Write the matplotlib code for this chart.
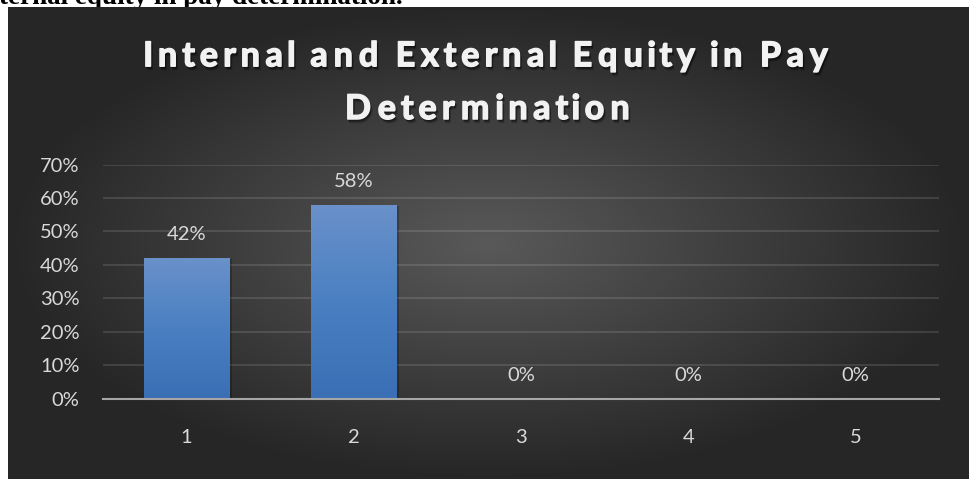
import numpy as np
import matplotlib
matplotlib.use("Agg")
import matplotlib.pyplot as plt
from matplotlib import patheffects as pe
from matplotlib.path import Path
from matplotlib.transforms import Affine2D
from matplotlib.colors import LinearSegmentedColormap

# ---- data ----
categories = ["1", "2", "3", "4", "5"]
values = [42, 58, 0, 0, 0]          # percent
y_ticks = [0, 10, 20, 30, 40, 50, 60, 70]
title = "Internal and External Equity in Pay\nDetermination"
caption = "ternal equity in pay determination."

W, H = 969, 479
fig = plt.figure(figsize=(W / 100, H / 100), dpi=100, facecolor="white")


class SpacedText(pe.AbstractPathEffect):
    """Adds letter spacing (moves glyph contours apart), a stroke and a soft shadow."""

    def __init__(self, k, stroke=0.0, shadows=()):
        super().__init__()
        self.k = k
        self.stroke = stroke
        self.shadows = shadows

    def _spaced(self, path):
        codes = path.codes
        if codes is None:
            return path
        verts = path.vertices.copy()
        valid = codes != Path.CLOSEPOLY
        xs = verts[valid, 0]
        mid = (xs.min() + xs.max()) / 2
        starts = list(np.where(codes == Path.MOVETO)[0]) + [len(verts)]
        for s, e in zip(starts[:-1], starts[1:]):
            m = valid[s:e]
            seg = verts[s:e, 0][m]
            if len(seg) == 0:
                continue
            c = (seg.min() + seg.max()) / 2
            verts[s:e, 0] += self.k * (c - mid)
        return Path(verts, codes)

    def draw_path(self, renderer, gc, tpath, affine, rgbFace=None):
        p = self._spaced(tpath)
        for ox, oy, a in self.shadows:
            gc0 = renderer.new_gc()
            gc0.copy_properties(gc)
            gc0.set_alpha(a)
            gc0.set_foreground((0, 0, 0))
            gc0.set_linewidth(self.stroke)
            renderer.draw_path(gc0, p, affine + Affine2D().translate(ox, -oy), (0, 0, 0))
            gc0.restore()
        gc1 = renderer.new_gc()
        gc1.copy_properties(gc)
        gc1.set_foreground(rgbFace)
        gc1.set_linewidth(self.stroke)
        gc1.set_joinstyle("round")
        renderer.draw_path(gc1, p, affine, rgbFace)
        gc1.restore()


# ---- background with radial gradient ----
bx0, by_top = 8, 7
bg = fig.add_axes([bx0 / W, 0, (W - bx0) / W, (H - by_top) / H], zorder=-1)
bw, bh = W - bx0, H - by_top
xx, yy = np.meshgrid(np.arange(bw), np.arange(bh))
cx, cy = 480, 236
r = np.sqrt(((xx - cx) / (bw / 2)) ** 2 + ((yy - cy) / (bh / 2)) ** 2)
r = np.clip(r, 0, 1)
g = (89 - 51 * r) / 255.0
img = np.dstack([g, g, g])
bg.imshow(img, aspect="auto", interpolation="bilinear")
bg.set_axis_off()

# cropped caption in the white strip above the chart
fig.text(-1 / W, 1 - 4.5 / H, caption, fontfamily="Liberation Serif",
         fontweight="bold", fontsize=19.5, color="black", ha="left",
         va="baseline", zorder=-2)

# ---- main axes ----
ax = fig.add_axes([103 / W, (H - 398.5) / H, 836 / W, 234 / H], zorder=1)
ax.patch.set_visible(False)
x = np.arange(len(categories))
bar_w = 0.51
bars = ax.bar(x, values, width=bar_w, color="#3a70b6", zorder=1.2,
              path_effects=[pe.SimplePatchShadow(offset=(2, -1), alpha=0.22,
                                                 shadow_rgbFace="black"),
                            pe.Normal()])
cmap = LinearSegmentedColormap.from_list("bar", ["#3a6fb5", "#4a80c2", "#6a91ca"])
grad = np.linspace(0, 1, 256).reshape(-1, 1)
for b in bars:
    h = b.get_height()
    if h <= 0:
        continue
    x0 = b.get_x()
    im = ax.imshow(grad, extent=[x0, x0 + b.get_width(), 0, h], origin="lower",
                   aspect="auto", cmap=cmap, zorder=1.3, interpolation="bilinear")
    im.set_clip_path(b)

ax.set_xlim(-0.5, len(categories) - 0.5)
ax.set_ylim(0, 70)
ax.set_yticks(y_ticks)
ax.set_yticklabels([f"{v}%" for v in y_ticks])
ax.set_xticks(x)
ax.set_xticklabels(categories)
lab_font = dict(family="Lato", size=14.5)
for t in ax.get_xticklabels() + ax.get_yticklabels():
    t.set_fontfamily("Lato")
    t.set_fontsize(14.5)
    t.set_color("#d9d9d9")
ax.tick_params(axis="both", length=0)
ax.tick_params(axis="y", pad=17)
ax.tick_params(axis="x", pad=22)
ax.yaxis.grid(True, color="white", alpha=0.12, lw=1.4)
ax.set_axisbelow(True)
for s in ("top", "right", "left"):
    ax.spines[s].set_visible(False)
ax.spines["bottom"].set_color("#a6a6a6")
ax.spines["bottom"].set_linewidth(1.5)
ax.spines["bottom"].set_zorder(3)

for xi, v in zip(x, values):
    ax.annotate(f"{v}%", (xi, v), xytext=(0, 12.8), textcoords="offset points",
                ha="center", va="baseline", color="#d9d9d9", **lab_font)

# ---- title ----
fig.text(487 / W, 1 - 119 / H, title, ha="center", va="baseline",
         multialignment="center", fontfamily="Lato", fontweight="bold",
         fontsize=24.5, color="#f2f2f2", linespacing=1.8, zorder=5,
         path_effects=[SpacedText(0.32, stroke=1.1,
                                  shadows=((1, 1.5, 0.22), (1.5, 2.5, 0.16), (2, 3.5, 0.1)))])

fig.savefig("out.png", dpi=100, facecolor="white")
